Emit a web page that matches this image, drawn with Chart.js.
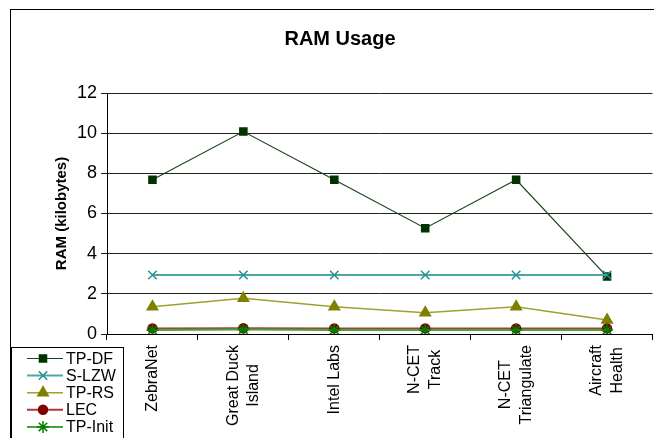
<!DOCTYPE html>
<html>
<head>
<meta charset="utf-8">
<script src="https://cdn.jsdelivr.net/npm/chart.js@4"></script>
<style>
  html, body { margin: 0; padding: 0; background: #fff; overflow: hidden; }
  #wrap { position: relative; width: 660px; height: 438px; }
</style>
</head>
<body>
<div id="wrap"><canvas id="ramChart"></canvas></div>
<script>
var categories = [
    ['ZebraNet'],
    ['Great Duck', 'Island'],
    ['Intel Labs'],
    ['N-CET', 'Track'],
    ['N-CET', 'Triangulate'],
    ['Aircraft', 'Health']
];
var tpDf   = [7.68, 10.08, 7.68, 5.27, 7.68, 2.86];
var sLzw   = [2.94, 2.94, 2.94, 2.94, 2.94, 2.94];
var tpRs   = [1.36, 1.78, 1.36, 1.06, 1.36, 0.70];
var lec    = [0.28, 0.29, 0.28, 0.28, 0.28, 0.28];
var tpInit = [0.20, 0.22, 0.20, 0.20, 0.20, 0.20];
var yTicks = [0, 2, 4, 6, 8, 10, 12];

var FONT = '"Liberation Sans", Arial, sans-serif';

function series(label, data, line, mark, style, radius, width, order) {
    return {
        label: label,
        data: data,
        borderColor: line,
        borderWidth: width,
        backgroundColor: mark,
        pointStyle: style,
        pointRadius: radius,
        pointHoverRadius: radius,
        pointBackgroundColor: mark,
        pointBorderColor: mark,
        pointBorderWidth: 1.5,
        tension: 0,
        fill: false,
        order: order
    };
}

var datasets = [
    series('TP-DF',   tpDf,   '#1a441a', '#003300', 'rect',     5,   1.2, 5),
    series('S-LZW',   sLzw,   '#4ea7a7', '#2a9090', 'crossRot', 6,   2,   4),
    series('TP-RS',   tpRs,   '#a0a030', '#808000', 'triangle', 6,   1.5, 3),
    series('LEC',     lec,    '#ad3a3a', '#800000', 'circle',   4.5, 2,   2),
    series('TP-Init', tpInit, '#3ea83e', '#008000', 'star',     6,   2,   1)
];

// frame, title, centred category labels and the boxed legend
var decor = {
    id: 'decor',
    afterDraw: function (chart) {
        var ctx = chart.ctx;
        ctx.save();

        ctx.strokeStyle = '#000';
        ctx.lineWidth = 1;
        ctx.strokeRect(10.5, 9.5, 800, 600);

        ctx.fillStyle = '#000';
        ctx.font = 'bold 20px ' + FONT;
        ctx.textAlign = 'center';
        ctx.textBaseline = 'middle';
        ctx.fillText('RAM Usage', 340, 39);

        // category labels, rotated, lines centred on each other
        var xs = chart.scales.x;
        ctx.font = '16px ' + FONT;
        categories.forEach(function (lines, i) {
            var px = xs.getPixelForTick(i);
            var maxW = 0;
            lines.forEach(function (t) { maxW = Math.max(maxW, ctx.measureText(t).width); });
            var cy = xs.top + 11 + maxW / 2;
            lines.forEach(function (t, j) {
                var off = (j - (lines.length - 1) / 2) * 20.5;
                ctx.save();
                ctx.translate(px + off, cy);
                ctx.rotate(-Math.PI / 2);
                ctx.fillText(t, 0, 0);
                ctx.restore();
            });
        });

        // legend
        ctx.fillStyle = '#fff';
        ctx.fillRect(11.5, 347.5, 112, 100);
        ctx.strokeStyle = '#000';
        ctx.strokeRect(11.5, 347.5, 112, 100);
        chart.data.datasets.forEach(function (ds, i) {
            var y = 358.5 + i * 17.1;
            ctx.strokeStyle = ds.borderColor;
            ctx.lineWidth = ds.borderWidth;
            ctx.beginPath();
            ctx.moveTo(27, y);
            ctx.lineTo(63, y);
            ctx.stroke();
            ctx.fillStyle = ds.pointBackgroundColor;
            ctx.strokeStyle = ds.pointBorderColor;
            ctx.lineWidth = ds.pointBorderWidth;
            Chart.helpers.drawPoint(ctx, {
                pointStyle: ds.pointStyle,
                radius: ds.pointRadius,
                rotation: 0,
                borderWidth: ds.pointBorderWidth
            }, 43, y);
            ctx.fillStyle = '#000';
            ctx.font = '16px ' + FONT;
            ctx.textAlign = 'left';
            ctx.textBaseline = 'middle';
            ctx.fillText(ds.label, 66, y + 1);
        });

        ctx.restore();
    }
};

new Chart(document.getElementById('ramChart'), {
    type: 'line',
    data: {
        labels: categories.map(function (c) { return c.join(' '); }),
        datasets: datasets
    },
    plugins: [decor],
    options: {
        responsive: true,
        maintainAspectRatio: false,
        animation: false,
        layout: { padding: { left: 49, top: 93, right: 0, bottom: 0 } },
        plugins: {
            legend: { display: false },
            title: { display: false },
            tooltip: { enabled: false }
        },
        scales: {
            x: {
                type: 'category',
                offset: true,
                afterFit: function (s) { s.height = 104; },
                border: { display: true, color: '#000', width: 1 },
                grid: { drawOnChartArea: false, drawTicks: true, offset: true, tickLength: 6, color: '#000' },
                ticks: { color: 'transparent', autoSkip: false, maxRotation: 90, minRotation: 90, font: { family: FONT, size: 16 } }
            },
            y: {
                min: 0,
                max: 12,
                afterFit: function (s) { s.width = 58; },
                afterBuildTicks: function (s) { s.ticks = yTicks.map(function (v) { return { value: v }; }); },
                border: { display: true, color: '#000', width: 1 },
                grid: { color: '#222', lineWidth: 1, tickLength: 6, drawTicks: true },
                ticks: { color: '#000', padding: 4, font: { family: FONT, size: 18 } },
                title: {
                    display: true,
                    text: 'RAM (kilobytes)',
                    color: '#000',
                    font: { family: FONT, size: 15, weight: 'bold' }
                }
            }
        }
    }
});
</script>
</body>
</html>
